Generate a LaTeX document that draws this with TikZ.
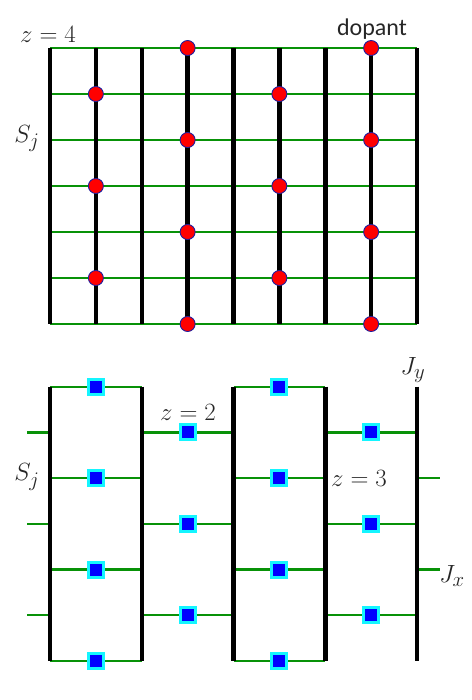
\documentclass[tikz,border=0pt]{standalone}
\usepackage{fontspec}
\newfontfamily\dopfont{Carlito}
\definecolor{gcol}{RGB}{8,146,8}
\definecolor{dotedge}{RGB}{30,30,160}
\definecolor{sqedge}{RGB}{20,245,255}
\begin{document}
\begin{tikzpicture}[x=1pt,y=-1pt,
  chain/.style={line width=4.5pt,black},
  bond/.style={line width=2.2pt,gcol},
  dop/.style={circle,fill=red,draw=dotedge,line width=0.9pt,minimum size=15pt,inner sep=0pt},
  sq/.style={rectangle,fill=blue,draw=sqedge,line width=3pt,minimum size=15pt,inner sep=0pt},
  zlbl/.style={font=\fontsize{25}{30}\selectfont,text=black!85,inner sep=0pt},
  biglbl/.style={font=\fontsize{30}{35}\selectfont,text=black!85,inner sep=0pt}]
\useasboundingbox (0,0) rectangle (471,700);
% ---------- top lattice ----------
\foreach \i in {0,...,8}{
  \foreach \j in {0,...,6}{
    \coordinate (t-\i-\j) at ({50+45.875*\i},{48+46*\j});
  }
}
\foreach \j in {0,...,6}{\draw[bond] (t-0-\j) -- (t-8-\j);}
\foreach \i in {0,...,8}{\draw[chain] (t-\i-0) -- (t-\i-6);}
\foreach \i in {1,5}{\foreach \j in {1,3,5}{\node[dop] (d-\i-\j) at (t-\i-\j) {};}}
\foreach \i in {3,7}{\foreach \j in {0,2,4,6}{\node[dop] (d-\i-\j) at (t-\i-\j) {};}}
\node[zlbl] (z4) at (48,34) {$z=4$};
\node[font=\dopfont\fontsize{24}{28}\selectfont,text=black!85,inner sep=0pt] (dopant) at (372,29) {dopant};
\node[biglbl] (sj1) at (27,139) {$S_j$};
% ---------- bottom lattice ----------
\foreach \i in {0,2,4,6,8}{
  \foreach \j in {0,...,6}{
    \coordinate (b-\i-\j) at ({50+45.875*\i},{386.7+45.72*\j});
  }
}
\foreach \j in {1,3,5}{
  \coordinate (ls-\j) at (27,{386.7+45.72*\j});
  \draw[bond] (ls-\j) -- (b-0-\j);
}
\foreach \j in {2,4}{
  \coordinate (rs-\j) at (440,{386.7+45.72*\j});
  \draw[bond] (b-8-\j) -- (rs-\j);
}
\foreach \a/\b in {0/2,4/6}{
  \foreach \j in {0,2,4,6}{
    \draw[bond] (b-\a-\j) -- node[sq] (s-\a-\j) {} (b-\b-\j);
  }
}
\foreach \a/\b in {2/4,6/8}{
  \foreach \j in {1,3,5}{
    \draw[bond] (b-\a-\j) -- node[sq] (s-\a-\j) {} (b-\b-\j);
  }
}
\foreach \i in {0,2,4,6,8}{\draw[chain] (b-\i-0) -- (b-\i-6);}
\node[biglbl] (sj2) at (27,477) {$S_j$};
\node[zlbl] (z2) at (188,412) {$z=2$};
\node[zlbl] (z3) at (359,478) {$z=3$};
\node[biglbl] (jy) at (413,370) {$J_y$};
\node[biglbl] (jx) at (452,576) {$J_x$};
\end{tikzpicture}
\end{document}
